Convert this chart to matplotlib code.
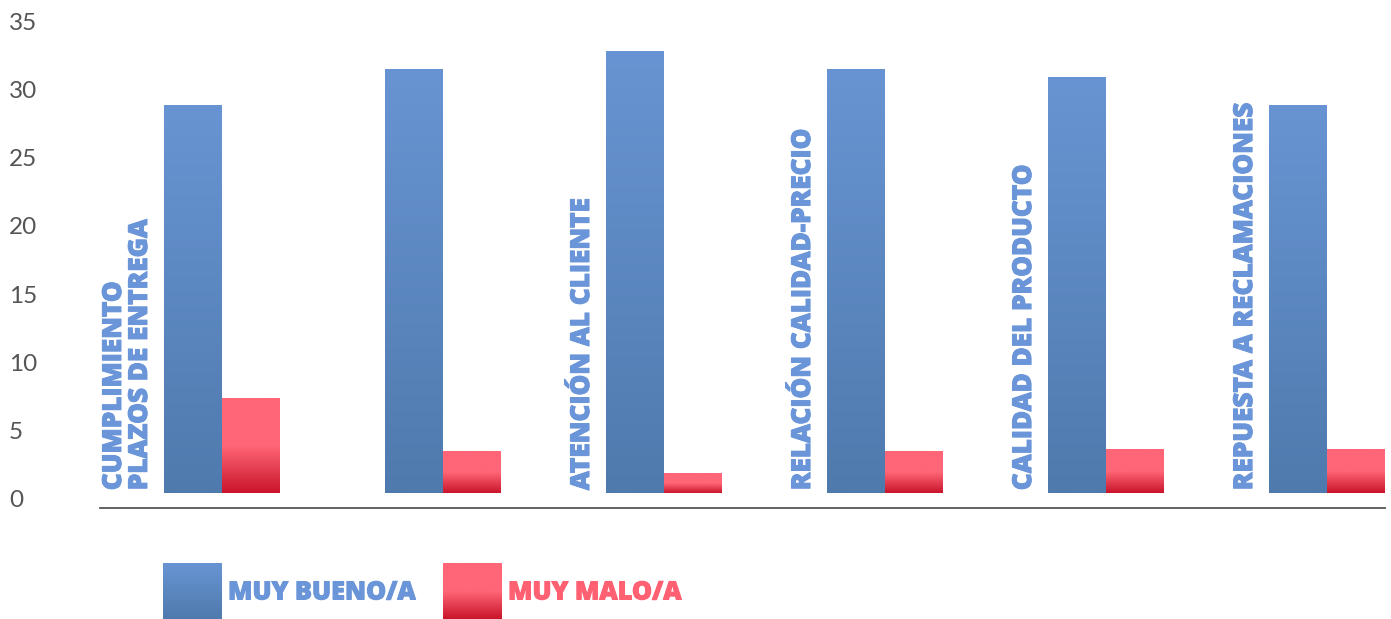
import numpy as np
import matplotlib.pyplot as plt
import matplotlib.patheffects as pe
from matplotlib.colors import LinearSegmentedColormap
from matplotlib.transforms import ScaledTranslation

categorias = ["CUMPLIMIENTO\nPLAZOS DE ENTREGA", "", "ATENCIÓN AL CLIENTE",
              "RELACIÓN CALIDAD-PRECIO", "CALIDAD DEL PRODUCTO",
              "REPUESTA A RECLAMACIONES"]
muy_bueno = [28.4, 31.0, 32.3, 31.0, 30.4, 28.4]
muy_malo = [6.95, 3.05, 1.4, 3.05, 3.2, 3.2]
series = ["MUY BUENO/A", "MUY MALO/A"]
yticks = [0, 5, 10, 15, 20, 25, 30, 35]

azul_txt = "#6a95d8"
rojo_txt = "#ff6072"
cmap_azul = LinearSegmentedColormap.from_list("az", ["#4f7aad", "#6894d3"])
cmap_rojo = LinearSegmentedColormap.from_list("ro", [(0, "#c9142a"), (0.5, "#ff6677"), (1, "#ff6677")])

plt.rcParams['font.family'] = ['Lato', 'DejaVu Sans']
fuente = ['Open Sans', 'DejaVu Sans']

fig = plt.figure(figsize=(13.91, 6.19), dpi=100)
ax = fig.add_axes([0.0719, 0.1793, 0.9238, 0.8045])

x = np.arange(len(categorias))
w = 0.262
b1 = ax.bar(x - w / 2, muy_bueno, w, color="none")
b2 = ax.bar(x + w / 2, muy_malo, w, color="none")

grad = np.linspace(0, 1, 256).reshape(-1, 1)


def pintar(barras, cmap):
    for b in barras:
        x0, y0, bw, bh = b.get_x(), b.get_y(), b.get_width(), b.get_height()
        ax.imshow(grad, extent=[x0, x0 + bw, y0, y0 + bh], origin="lower",
                  aspect="auto", cmap=cmap, zorder=2)


pintar(b1, cmap_azul)
pintar(b2, cmap_rojo)

for i, c in enumerate(categorias):
    if c:
        ax.annotate(c, xy=(x[i] - w, 0), xytext=(-8, 2), textcoords="offset points",
                    rotation=90, ha="right", va="bottom", ma="left",
                    fontsize=18.8, fontweight="extra bold", family=fuente, color=azul_txt,
                    linespacing=1.0,
                    path_effects=[pe.withStroke(linewidth=0.7, foreground=azul_txt)])

ax.set_xlim(-0.552, 5.262)
ax.set_ylim(-1.1, 35.37)
ax.set_yticks(yticks)
ax.set_xticks([])
for s in ["top", "right", "left"]:
    ax.spines[s].set_visible(False)
ax.spines["bottom"].set_color("#555555")
ax.spines["bottom"].set_linewidth(1.3)
ax.tick_params(axis="y", length=0, pad=65.5, labelsize=17.5, labelcolor="#555555")
for lab in ax.get_yticklabels():
    lab.set_ha("left")
    lab.set_transform(lab.get_transform() + ScaledTranslation(0, -6 / 100, fig.dpi_scale_trans))

# leyenda
lg = fig.add_axes([0, 0, 1, 1], zorder=-1)
lg.axis("off")
for x0, cm, txt, col in [(163, cmap_azul, series[0], azul_txt), (443, cmap_rojo, series[1], rojo_txt)]:
    lg.imshow(grad, extent=[x0, x0 + 59, 619, 563], origin="lower", aspect="auto", cmap=cm)
    lg.text(x0 + 65, 593, txt, ha="left", va="center", fontsize=18.2,
            fontweight="extra bold", family=fuente, color=col,
            path_effects=[pe.withStroke(linewidth=0.7, foreground=col)])
lg.set_xlim(0, 1391)
lg.set_ylim(619, 0)

fig.savefig("out.png", dpi=100)
